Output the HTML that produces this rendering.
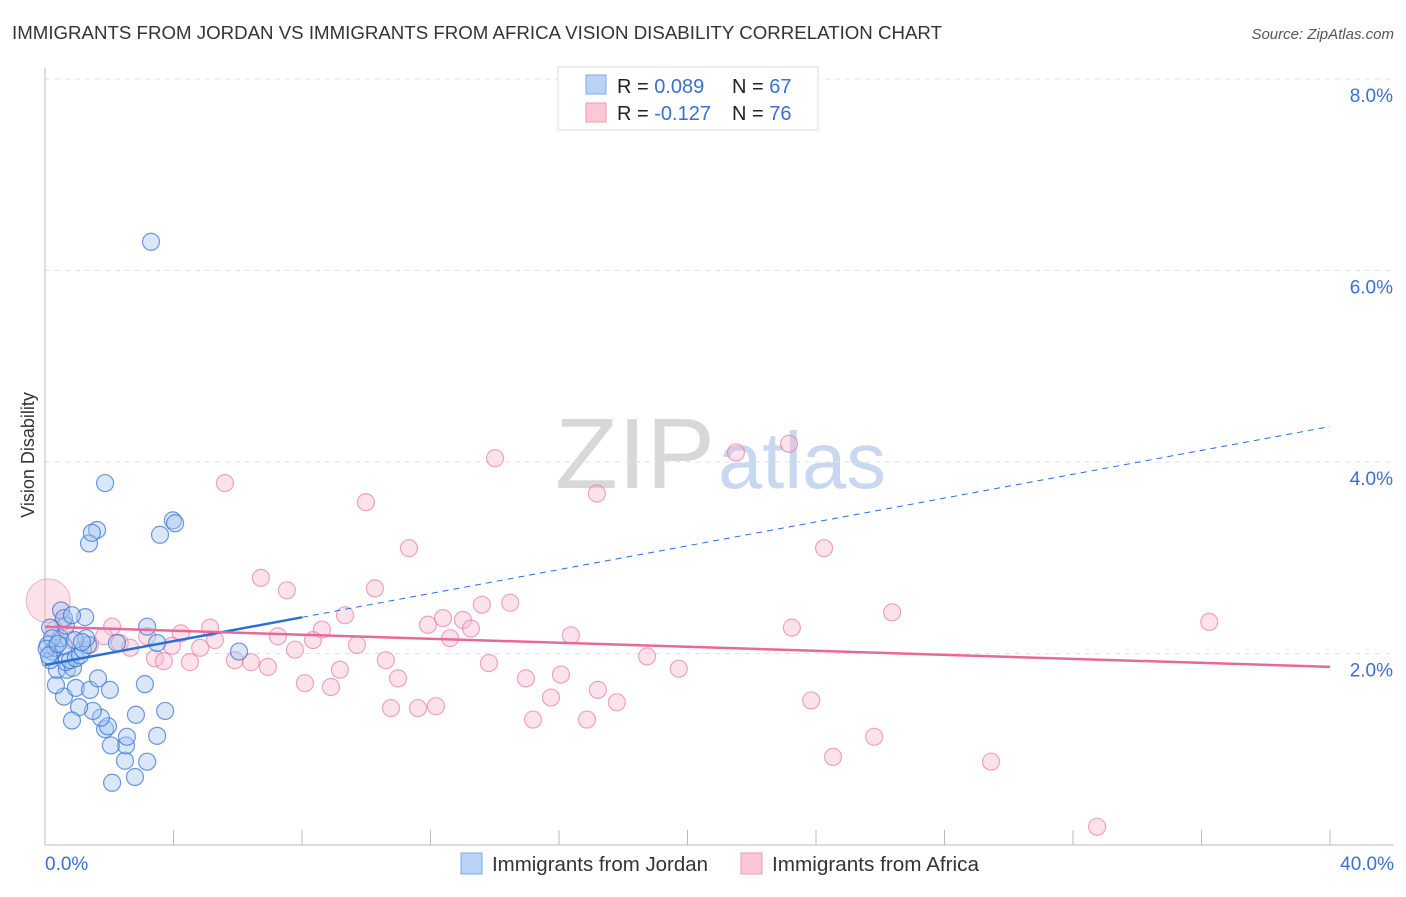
<!DOCTYPE html>
<html><head><meta charset="utf-8"><style>
body{margin:0;background:#fff;font-family:"Liberation Sans",sans-serif;}
svg text{font-family:"Liberation Sans",sans-serif;}
</style></head><body>
<svg id="chart" width="1406" height="892" xmlns="http://www.w3.org/2000/svg">
<text x="12" y="39" font-size="18" fill="#333" textLength="930" lengthAdjust="spacingAndGlyphs">IMMIGRANTS FROM JORDAN VS IMMIGRANTS FROM AFRICA VISION DISABILITY CORRELATION CHART</text>
<text x="1394" y="39" font-size="15" fill="#555" text-anchor="end" font-style="italic">Source: ZipAtlas.com</text>
<text x="555" y="488" font-size="100" fill="#d8d8d8" font-family="Liberation Serif" textLength="160" lengthAdjust="spacingAndGlyphs">ZIP</text>
<text x="718" y="488" font-size="80" fill="#c8d8f0" textLength="168" lengthAdjust="spacingAndGlyphs">atlas</text>
<text transform="translate(34,455) rotate(-90)" font-size="18" fill="#333" text-anchor="middle">Vision Disability</text>
<g id="grid"></g>
<g id="axes"></g>
<g id="points"></g>
<g id="trends"></g>
<g>
<rect x="558" y="67" width="260" height="63" fill="#fff" stroke="#ddd"/>
<rect x="586" y="75" width="20" height="19" fill="#b8d3f5" stroke="#7fa9e0"/>
<rect x="586" y="103" width="20" height="19" fill="#fcc8d6" stroke="#eb9ab2"/>
<text x="617" y="93" font-size="20" fill="#222">R = <tspan fill="#3a70d0">0.089</tspan></text>
<text x="732" y="93" font-size="20" fill="#222">N = <tspan fill="#3a70d0">67</tspan></text>
<text x="617" y="120" font-size="20" fill="#222">R = <tspan fill="#3a70d0">-0.127</tspan></text>
<text x="732" y="120" font-size="20" fill="#222">N = <tspan fill="#3a70d0">76</tspan></text>
</g>
<g>
<rect x="461" y="853" width="21" height="21" fill="#b8d3f5" stroke="#7fa9e0"/>
<text x="492" y="871" font-size="20" fill="#333" textLength="216" lengthAdjust="spacingAndGlyphs">Immigrants from Jordan</text>
<rect x="741" y="853" width="21" height="21" fill="#fcc8d6" stroke="#eb9ab2"/>
<text x="772" y="871" font-size="20" fill="#333" textLength="207" lengthAdjust="spacingAndGlyphs">Immigrants from Africa</text>
</g>
</svg>
<script>
const NS="http://www.w3.org/2000/svg";
const yTicks=[2,4,6,8];
const yTickLabels=["2.0%","4.0%","6.0%","8.0%"];
const xTickCount=[0,4,8,12,16,20,24,28,32,36,40];
const xEndLabels=["0.0%","40.0%"];
const jordanX=[3.30,1.87,1.62,1.37,1.46,3.98,4.05,3.58,3.18,3.11,3.74,3.49,3.18,2.80,2.09,2.49,2.52,2.05,2.55,1.87,1.96,1.74,2.83,1.49,1.06,0.84,0.59,0.96,1.40,2.02,0.34,1.65,0.37,0.68,0.87,0.65,0.78,0.96,0.16,0.22,0.31,0.09,0.59,1.09,1.18,1.34,1.28,0.47,0.65,1.25,0.50,0.59,0.84,0.16,2.24,3.49,6.04,0.22,0.93,1.15,0.05,0.12,0.40];
const jordanY=[6.30,3.78,3.29,3.15,3.26,3.39,3.36,3.24,2.28,1.68,1.40,1.14,0.87,0.71,0.65,0.88,1.04,1.04,1.13,1.21,1.24,1.33,1.36,1.40,1.44,1.30,1.55,1.64,1.62,1.62,1.67,1.74,1.83,1.83,1.85,1.91,1.93,1.95,1.93,2.02,2.06,2.09,2.08,1.98,2.04,2.09,2.16,2.16,2.29,2.38,2.45,2.37,2.40,2.27,2.11,2.11,2.02,2.16,2.14,2.12,2.05,1.98,2.10];
const africaX=[14.01,21.51,23.16,5.60,9.99,17.18,11.33,24.25,6.72,7.53,10.27,13.60,14.48,26.37,36.24,9.34,12.39,13.01,11.92,13.26,8.62,23.25,16.37,12.61,5.14,4.23,7.25,8.34,2.09,3.18,5.29,1.84,2.33,2.65,3.95,4.83,7.78,9.71,3.42,3.70,4.51,5.91,6.41,6.94,10.61,13.82,18.74,9.18,16.06,19.73,10.99,14.97,8.09,8.90,17.21,15.75,17.80,23.85,10.77,11.61,12.17,15.19,16.87,25.81,24.53,29.45,32.75,0.78,1.40,0.56,0.31];
const africaY=[4.04,4.10,4.19,3.78,3.58,3.67,3.10,3.10,2.79,2.66,2.68,2.51,2.53,2.43,2.33,2.40,2.37,2.35,2.30,2.26,2.25,2.27,2.19,2.16,2.27,2.21,2.18,2.14,2.28,2.18,2.14,2.18,2.11,2.06,2.08,2.06,2.04,2.09,1.95,1.92,1.91,1.93,1.91,1.86,1.93,1.90,1.97,1.83,1.78,1.84,1.74,1.74,1.69,1.65,1.62,1.54,1.49,1.51,1.43,1.43,1.45,1.31,1.31,1.13,0.92,0.87,0.19,2.14,2.09,2.33,2.25];
const jordanTrend=[1.88,4.37];
const africaTrend=[2.28,1.86];
const X=v=>45+v/40*1285;
const Y=v=>845-v*95.75;
function mk(tag,attrs,parent){const e=document.createElementNS(NS,tag);for(const k in attrs)e.setAttribute(k,attrs[k]);parent.appendChild(e);return e;}
const grid=document.getElementById('grid'),axes=document.getElementById('axes'),pts=document.getElementById('points'),tr=document.getElementById('trends');
yTicks.forEach((t,i)=>{
 const l=mk('line',{x1:45,x2:1394,y1:Y(t),y2:Y(t),stroke:'#e2e2e2','stroke-dasharray':'5,5'},grid);
 
 
 const tx=mk('text',{x:1393,y:Y(t)+23,'font-size':19,fill:'#3a70d0','text-anchor':'end'},axes);
 tx.textContent=yTickLabels[i];
 
 
});
const ax=mk('line',{x1:45,x2:45,y1:68,y2:845,stroke:'#bbb'},axes);


const bx=mk('line',{x1:45,x2:1394,y1:845,y2:845,stroke:'#bbb'},axes);


xTickCount.forEach(t=>{
 const l=mk('line',{x1:X(t),x2:X(t),y1:830,y2:845,stroke:'#bbb'},axes);
 
 
});
const xl0=mk('text',{x:45,y:870,'font-size':19,fill:'#3a70d0'},axes);xl0.textContent=xEndLabels[0];


const xl1=mk('text',{x:1394,y:870,'font-size':19,fill:'#3a70d0','text-anchor':'end'},axes);xl1.textContent=xEndLabels[1];


const big=mk('circle',{cx:X(0.1),cy:Y(2.55),r:22,fill:'rgba(248,180,200,0.4)',stroke:'rgba(230,120,160,0.5)'},pts);


africaX.forEach((x,i)=>{
 const c=mk('circle',{cx:X(x),cy:Y(africaY[i]),r:8.5,fill:'rgba(248,185,205,0.4)',stroke:'rgba(230,120,160,0.65)','stroke-width':1.2},pts);
 
 
});
jordanX.forEach((x,i)=>{
 const c=mk('circle',{cx:X(x),cy:Y(jordanY[i]),r:8.5,fill:'rgba(165,198,240,0.42)',stroke:'rgba(55,115,210,0.72)','stroke-width':1.2},pts);
 
 
});
const jAt=x=>jordanTrend[0]+(jordanTrend[1]-jordanTrend[0])*x/40;
const t1=mk('line',{x1:X(0),y1:Y(jAt(0)),x2:X(8),y2:Y(jAt(8)),stroke:'#2a6fd6','stroke-width':2.5},tr);


const t2=mk('line',{x1:X(8),y1:Y(jAt(8)),x2:X(40),y2:Y(jAt(40)),stroke:'#2a6fd6','stroke-width':1,'stroke-dasharray':'6,5'},tr);


const t3=mk('line',{x1:X(0),y1:Y(africaTrend[0]),x2:X(40),y2:Y(africaTrend[1]),stroke:'#e8689a','stroke-width':2.5},tr);


</script>
</body></html>
